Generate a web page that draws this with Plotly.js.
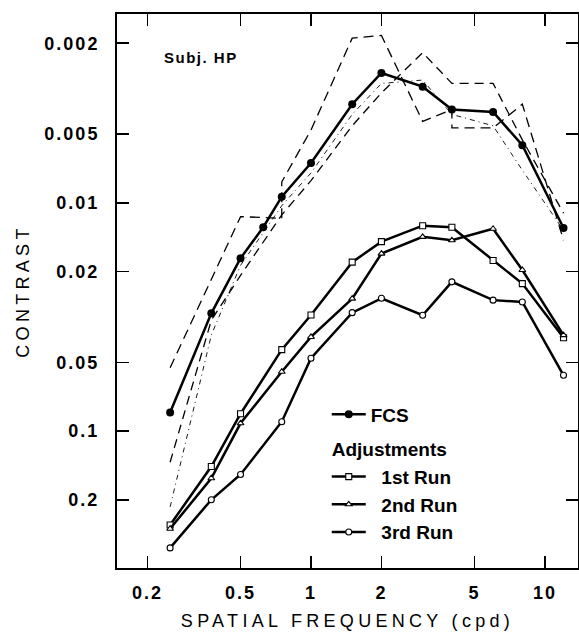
<!DOCTYPE html>
<html>
<head>
<meta charset="utf-8">
<script src="https://cdn.plot.ly/plotly-3.0.1.min.js"></script>
<style>
  html, body { margin: 0; padding: 0; background: #fff; }
  #chart { width: 579px; height: 632px; }
  .xtick text, .ytick text { letter-spacing: 2px; }
  text.xtitle, text.ytitle { letter-spacing: 4.3px; }
  .annotation-text { letter-spacing: 1.5px; }
</style>
</head>
<body>
<div id="chart"></div>
<script>
// Spatial frequencies (cpd)
const freqFCS  = [0.25, 0.375, 0.5, 0.625, 0.75, 1, 1.5, 2, 3, 4, 6, 8, 12];
const freqRuns = [0.25, 0.375, 0.5, 0.75, 1, 1.5, 2, 3, 4, 6, 8, 12];
const freqDashA = [0.25, 0.5, 0.75, 0.75, 1, 1.5, 2, 3, 4, 4, 6, 8, 12];

// Contrast thresholds
const contrastFCS = [0.083, 0.0305, 0.0175, 0.0128, 0.0094, 0.0067, 0.0037, 0.0027, 0.0031, 0.0039, 0.0040, 0.0056, 0.0129];
const run1 = [0.258, 0.143, 0.084, 0.044, 0.031, 0.0182, 0.0148, 0.0126, 0.0128, 0.0179, 0.0226, 0.039];
const run2 = [0.268, 0.161, 0.0925, 0.055, 0.0387, 0.0263, 0.0167, 0.0141, 0.0146, 0.0130, 0.0197, 0.038];
const run3 = [0.325, 0.200, 0.155, 0.091, 0.048, 0.0303, 0.0262, 0.0311, 0.0222, 0.0267, 0.0272, 0.057];

// Dashed (individual FCS) curves
const dashA = [0.0528, 0.0115, 0.0117, 0.0081, 0.0048, 0.0019, 0.00185, 0.0044, 0.0039, 0.0047, 0.0047, 0.0037, 0.0146];
const dashB = [0.137, 0.0327, 0.0208, 0.0113, 0.0080, 0.0046, 0.0033, 0.0022, 0.0030, 0.0030, 0.0053, 0.0111];
const dashC = [0.215, 0.038, 0.0188, 0.0103, 0.0074, 0.0041, 0.0030, 0.0029, 0.0041, 0.0046, 0.0072, 0.0132];

// Tick labels
const xTickVals = [0.2, 0.5, 1, 2, 5, 10];
const xTickText = ['0.2', '0.5', '1', '2', '5', '10'];
const yTickVals = [0.002, 0.005, 0.01, 0.02, 0.05, 0.1, 0.2];
const yTickText = ['0.002', '0.005', '0.01', '0.02', '0.05', '0.1', '0.2'];

const FONT = 'Liberation Sans, Arial, Helvetica, sans-serif';
const NB = '\u00a0';

const traces = [
  { x: freqDashA, y: dashA, mode: 'lines', showlegend: false, hoverinfo: 'skip',
    line: { color: '#000', width: 1.3, dash: '10px,6px' } },
  { x: freqRuns, y: dashB, mode: 'lines', showlegend: false, hoverinfo: 'skip',
    line: { color: '#000', width: 1.3, dash: '9px,6px' } },
  { x: freqRuns, y: dashC, mode: 'lines', showlegend: false, hoverinfo: 'skip',
    line: { color: '#000', width: 0.9, dash: '5px,4px,1px,4px' } },
  { x: freqFCS, y: contrastFCS, mode: 'lines+markers', name: 'FCS', legendgroup: 'fcs',
    line: { color: '#000', width: 2.5 },
    marker: { symbol: 'circle', size: 8, color: '#000' } },
  { x: freqRuns, y: run1, mode: 'lines+markers', name: NB + NB + '1st Run', legendgroup: 'adj',
    legendgrouptitle: { text: 'Adjustments', font: { size: 19, family: FONT, weight: 'bold' } },
    line: { color: '#000', width: 2.5 },
    marker: { symbol: 'square', size: 6, color: '#fff', line: { color: '#000', width: 1.1 } } },
  { x: freqRuns, y: run2, mode: 'lines+markers', name: NB + NB + '2nd Run', legendgroup: 'adj',
    line: { color: '#000', width: 2.5 },
    marker: { symbol: 'triangle-up', size: 6, color: '#fff', line: { color: '#000', width: 1.1 } } },
  { x: freqRuns, y: run3, mode: 'lines+markers', name: NB + NB + '3rd Run', legendgroup: 'adj',
    line: { color: '#000', width: 2.5 },
    marker: { symbol: 'circle', size: 6, color: '#fff', line: { color: '#000', width: 1.1 } } }
];

const axisCommon = {
  type: 'log', ticks: 'inside', ticklen: 12, tickwidth: 1.5, tickcolor: '#000',
  showline: true, linewidth: 2, linecolor: '#000', mirror: 'ticks',
  showgrid: false, zeroline: false,
  tickfont: { family: FONT, size: 18, color: '#000', weight: 'bold' }
};

const layout = {
  width: 579, height: 632,
  margin: { l: 117, r: 1, t: 14, b: 64 },
  paper_bgcolor: '#fff', plot_bgcolor: '#fff',
  font: { family: FONT, color: '#000' },
  xaxis: Object.assign({}, axisCommon, {
    range: [-0.829, 1.141],
    tickmode: 'array', tickvals: xTickVals, ticktext: xTickText,
    ticklabelstandoff: 7,
    title: { text: 'SPATIAL FREQUENCY (cpd)', font: { family: FONT, size: 18, color: '#000' }, standoff: 13 }
  }),
  yaxis: Object.assign({}, axisCommon, {
    range: [-0.400, -2.827],
    tickmode: 'array', tickvals: yTickVals, ticktext: yTickText,
    ticklabelstandoff: 12,
    title: { text: 'CONTRAST', font: { family: FONT, size: 18, color: '#000' }, standoff: 10 }
  }),
  legend: {
    x: 0.455, y: 0.3116, xanchor: 'left', yanchor: 'top',
    bgcolor: 'rgba(0,0,0,0)', borderwidth: 0,
    traceorder: 'grouped', tracegroupgap: 7, itemwidth: 34,
    font: { family: FONT, size: 19, color: '#000', weight: 'bold' }
  },
  annotations: [{
    text: 'Subj. HP', xref: 'paper', yref: 'paper', x: 0.0976, y: 0.922,
    xanchor: 'left', yanchor: 'middle', showarrow: false,
    font: { family: FONT, size: 15, color: '#000', weight: 'bold' }
  }]
};

Plotly.newPlot('chart', traces, layout, { staticPlot: true, displayModeBar: false });
</script>
</body>
</html>
